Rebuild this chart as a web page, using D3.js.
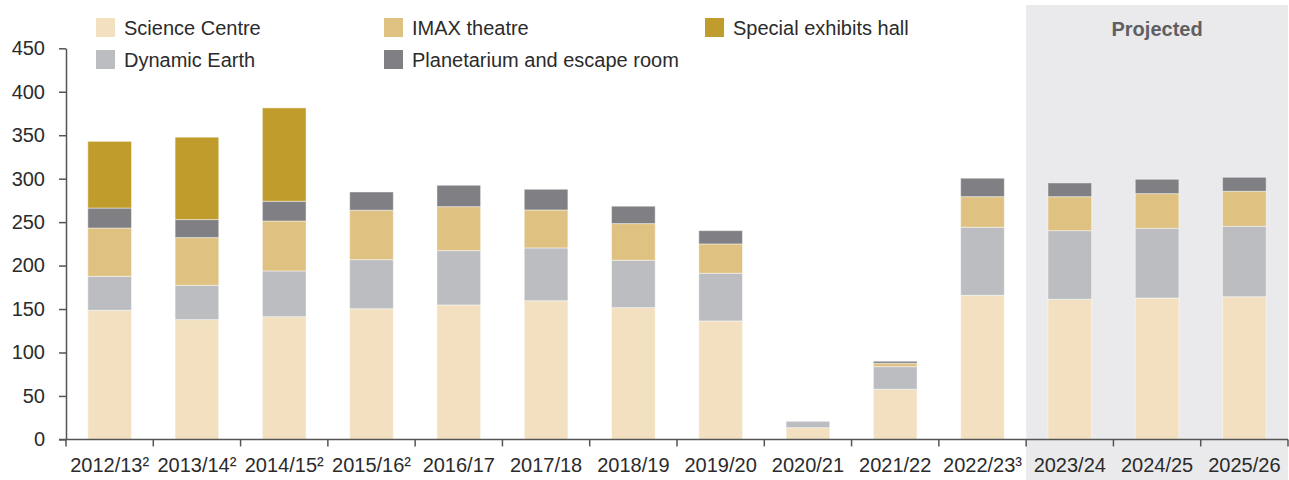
<!DOCTYPE html>
<html>
<head>
<meta charset="utf-8">
<script src="https://cdn.jsdelivr.net/npm/d3@7"></script>
<style>
  body { margin: 0; background: #fff; }
  svg text { font-family: "Liberation Sans", Arial, sans-serif; fill: #2b2b2b; }
</style>
</head>
<body>
<svg id="chart"></svg>
<script>
// Visitor numbers (thousands) by attraction
const years = ['2012/13²', '2013/14²', '2014/15²', '2015/16²', '2016/17', '2017/18', '2018/19',
  '2019/20', '2020/21', '2021/22', '2022/23³', '2023/24', '2024/25', '2025/26'];
const projectedYears = ['2023/24', '2024/25', '2025/26'];

const scienceCentre = [148.6, 137.8, 141.2, 150.4, 154.7, 159.6, 151.6, 136.3, 13.5, 57.7, 165.8, 161.2, 162.7, 164.2];
const dynamicEarth  = [39.0, 39.5, 52.6, 56.4, 62.5, 60.7, 54.5, 54.9, 7.3, 26.0, 78.3, 79.0, 80.2, 81.0];
const imaxTheatre   = [55.6, 54.9, 57.5, 56.9, 50.6, 43.7, 42.2, 33.7, 0, 3.9, 35.2, 39.1, 39.9, 40.3];
const planetarium   = [23.0, 20.7, 22.7, 21.0, 24.6, 23.8, 20.0, 15.3, 0, 2.3, 21.2, 15.8, 16.5, 16.1];
const specialHall   = [76.7, 94.8, 107.4, 0, 0, 0, 0, 0, 0, 0, 0, 0, 0, 0];

const seriesNames = ['Science Centre', 'Dynamic Earth', 'IMAX theatre', 'Planetarium and escape room', 'Special exhibits hall'];
const seriesColors = ['#f2e0c0', '#bcbdc1', '#dfc282', '#808084', '#bf9c2b'];
const yTicks = [0, 50, 100, 150, 200, 250, 300, 350, 400, 450];

const config = {
  containerWidth: 1289,
  containerHeight: 480,
  margin: {top: 48.3, right: 1, bottom: 40.6, left: 66},
  fontSize: 20
};
config.width = config.containerWidth - config.margin.left - config.margin.right;
config.height = config.containerHeight - config.margin.top - config.margin.bottom;

const svg = d3.select('#chart')
    .attr('width', config.containerWidth)
    .attr('height', config.containerHeight);

// build stack table
const table = years.map((y, i) => ({
  year: y,
  'Science Centre': scienceCentre[i],
  'Dynamic Earth': dynamicEarth[i],
  'IMAX theatre': imaxTheatre[i],
  'Planetarium and escape room': planetarium[i],
  'Special exhibits hall': specialHall[i]
}));
const stacked = d3.stack().keys(seriesNames)(table);

const xScale = d3.scaleBand()
    .domain(years)
    .range([0, config.width])
    .paddingInner(0.5)
    .paddingOuter(0.25);

const yScale = d3.scaleLinear()
    .domain([0, 450])
    .range([config.height, 0]);

const colorScale = d3.scaleOrdinal()
    .domain(seriesNames)
    .range(seriesColors);

const boundary = d => xScale(d) - xScale.step() * xScale.paddingInner() / 2;

// projected shading
const projStart = config.margin.left + boundary(projectedYears[0]);
svg.append('rect')
    .attr('x', projStart)
    .attr('y', 5)
    .attr('width', config.containerWidth - projStart - 1)
    .attr('height', config.containerHeight - 5)
    .attr('fill', '#eaeaec');

svg.append('text')
    .attr('x', (projStart + config.containerWidth - 1) / 2)
    .attr('y', 36)
    .attr('text-anchor', 'middle')
    .style('font-size', '20px')
    .style('font-weight', 'bold')
    .style('fill', '#5f5f62')
    .text('Projected');

const chart = svg.append('g')
    .attr('transform', `translate(${config.margin.left},${config.margin.top})`);

// bars
chart.selectAll('.layer')
    .data(stacked)
  .join('g')
    .attr('class', 'layer')
    .attr('fill', d => colorScale(d.key))
  .selectAll('rect')
    .data(d => d.filter(s => s[1] - s[0] > 0))
  .join('rect')
    .attr('x', d => xScale(d.data.year))
    .attr('y', d => yScale(d[1]))
    .attr('width', xScale.bandwidth())
    .attr('height', d => yScale(d[0]) - yScale(d[1]))
    .attr('stroke', '#ffffff')
    .attr('stroke-opacity', 0.45)
    .attr('stroke-width', 1);

// y axis
const yAxis = d3.axisLeft(yScale)
    .tickValues(yTicks)
    .tickSize(7)
    .tickPadding(14)
    .tickSizeOuter(0);
const yAxisG = chart.append('g').attr('class', 'axis y-axis').call(yAxis);

// x axis: ticks at band boundaries
const xAxisG = chart.append('g')
    .attr('class', 'axis x-axis')
    .attr('transform', `translate(0,${config.height})`);
xAxisG.append('line')
    .attr('x1', -7).attr('x2', config.width)
    .attr('y1', 0).attr('y2', 0);
const bounds = d3.range(years.length + 1).map(i => i * xScale.step());
xAxisG.selectAll('.xtick')
    .data(bounds)
  .join('line')
    .attr('class', 'xtick')
    .attr('x1', d => d).attr('x2', d => d)
    .attr('y1', 0).attr('y2', 7);
xAxisG.selectAll('.xlabel')
    .data(years)
  .join('text')
    .attr('class', 'xlabel')
    .attr('x', d => xScale(d) + xScale.bandwidth() / 2)
    .attr('y', 33)
    .attr('text-anchor', 'middle')
    .style('font-size', config.fontSize + 'px')
    .text(d => d);

svg.selectAll('.axis line, .axis path')
    .attr('stroke', '#555555')
    .attr('stroke-width', 1.5);
yAxisG.selectAll('text')
    .style('font-size', config.fontSize + 'px')
    .style('fill', '#2b2b2b');

// legend
const legendPos = [
  {x: 96, y: 18}, {x: 96, y: 50}, {x: 384, y: 18}, {x: 384, y: 50}, {x: 705, y: 18}
];
const legend = svg.append('g').attr('class', 'legend');
legend.selectAll('rect')
    .data(seriesNames)
  .join('rect')
    .attr('x', (d, i) => legendPos[i].x)
    .attr('y', (d, i) => legendPos[i].y)
    .attr('width', 19)
    .attr('height', 19)
    .style('fill', d => colorScale(d));
legend.selectAll('text')
    .data(seriesNames)
  .join('text')
    .attr('x', (d, i) => legendPos[i].x + 28)
    .attr('y', (d, i) => legendPos[i].y + 17)
    .style('font-size', config.fontSize + 'px')
    .text(d => d);
</script>
</body>
</html>
